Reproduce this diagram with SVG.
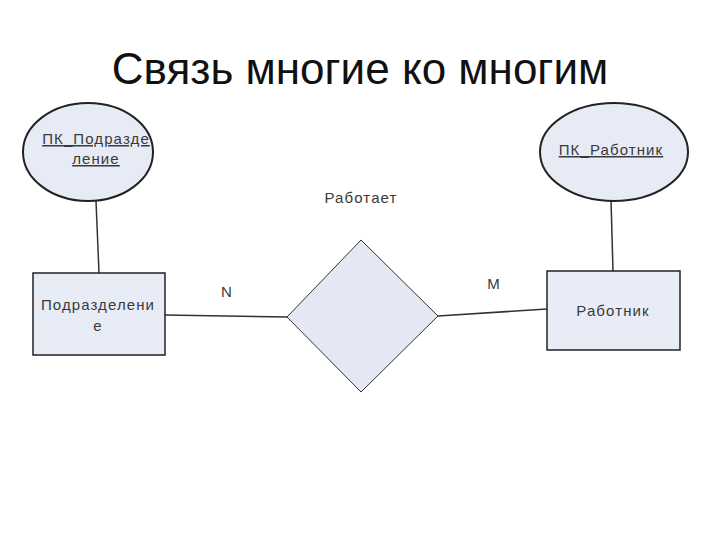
<svg xmlns="http://www.w3.org/2000/svg" width="720" height="540" viewBox="0 0 720 540">
<style>
.t{font-family:"Liberation Sans",Arial,sans-serif;fill:#3a3a3a;}
.s{font-size:15px;letter-spacing:1.1px;}
.u{text-decoration:underline;}
.ent{fill:#e8ecf6;stroke:#222;stroke-width:1.5;}
.att{fill:#e6ebf5;stroke:#222;stroke-width:2;}
.rel{fill:#e4e8f2;stroke:#333;stroke-width:1;}
.ln{stroke:#333;stroke-width:1.5;fill:none;}
</style>
<rect width="720" height="540" fill="#fff"/>
<text x="360" y="84" font-family="Liberation Sans, Arial, sans-serif" font-size="44" text-anchor="middle" fill="#111">Связь многие ко многим</text>
<g id="connectors">
<line class="ln" x1="96" y1="201" x2="99" y2="273"/>
<line class="ln" x1="611" y1="200" x2="613" y2="271"/>
<line class="ln" x1="165" y1="315" x2="287" y2="317"/>
<line class="ln" x1="438" y1="316" x2="547" y2="309"/>
<text class="t s" x="227" y="297" text-anchor="middle">N</text>
<text class="t s" x="494" y="289" text-anchor="middle">M</text>
</g>
<g id="pk_podrazdelenie">
<ellipse class="att" cx="88" cy="152" rx="65" ry="49"/>
<text class="t s u" x="96" y="144" text-anchor="middle">ПК_Подразде</text>
<text class="t s u" x="96" y="164" text-anchor="middle">ление</text>
</g>
<g id="pk_rabotnik">
<ellipse class="att" cx="614" cy="152" rx="74" ry="49"/>
<text class="t s u" x="611" y="155" text-anchor="middle">ПК_Работник</text>
</g>
<g id="podrazdelenie">
<rect class="ent" x="33" y="273" width="132" height="82"/>
<text class="t s" x="98" y="310" text-anchor="middle">Подразделени</text>
<text class="t s" x="98" y="331" text-anchor="middle">е</text>
</g>
<g id="rabotnik">
<rect class="ent" x="547" y="271" width="133" height="79"/>
<text class="t s" x="613" y="316" text-anchor="middle">Работник</text>
</g>
<g id="rabotaet">
<polygon class="rel" points="361,240 438,316 361,392 287,317"/>
<text class="t s" x="361" y="203" text-anchor="middle">Работает</text>
</g>
</svg>
